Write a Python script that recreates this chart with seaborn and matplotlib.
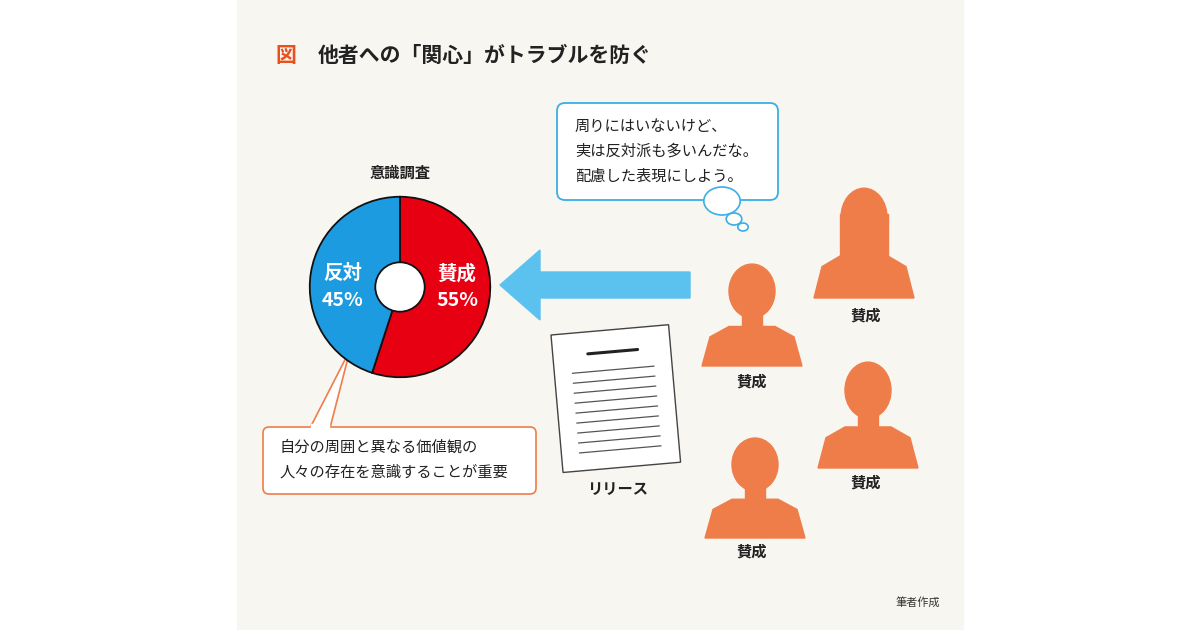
import matplotlib
matplotlib.use("Agg")
import matplotlib.pyplot as plt
import seaborn as sns
from matplotlib.patches import FancyBboxPatch, Circle, Ellipse, Polygon, Rectangle, FancyArrow
import matplotlib.transforms as mtrans

sns.set_theme(style="white", font="Noto Sans CJK JP")

# data
labels = ["賛成", "反対"]
values = [55, 45]
colors = ["#e60012", "#1d9be0"]
person_labels = ["賛成", "賛成", "賛成", "賛成"]

title = "他者への「関心」がトラブルを防ぐ"
bubble_text = "周りにはいないけど、\n実は反対派も多いんだな。\n配慮した表現にしよう。"
callout_text = "自分の周囲と異なる価値観の\n人々の存在を意識することが重要"

ORANGE = "#ee7d4a"
fig = plt.figure(figsize=(12, 6.3), dpi=100)
fig.patch.set_facecolor("white")
ax = fig.add_axes([0, 0, 1, 1])
ax.set_xlim(0, 1200)
ax.set_ylim(630, 0)
ax.axis("off")

ax.add_patch(Rectangle((237, 0), 726, 630, color="#f8f6f1", zorder=0))

ax.text(275, 55, "図", color="#e8501e", fontsize=15, fontweight="bold", va="center")
ax.text(318, 55, title, color="#222", fontsize=15, fontweight="bold", va="center")

# pie
ax.text(400, 173, "意識調査", fontsize=11, fontweight="bold", ha="center", va="center", color="#222")
pax = fig.add_axes([(400 - 95) / 1200, (630 - 287 - 95) / 630, 190 / 1200, 190 / 630])
pax.pie(values, colors=colors, startangle=90, counterclock=False, radius=0.95,
        wedgeprops=dict(edgecolor="#111", linewidth=1.3))
pax.add_patch(Circle((0, 0), 0.26, facecolor="white", edgecolor="#111", linewidth=1.3))
pax.set_xlim(-1, 1)
pax.set_ylim(-1, 1)
pax.text(0.6, 0.14, labels[0], color="white", fontsize=14, fontweight="bold", ha="center", va="center")
pax.text(0.6, -0.14, f"{values[0]}%", color="white", fontsize=14, fontweight="bold", ha="center", va="center")
pax.text(-0.6, 0.14, labels[1], color="white", fontsize=14, fontweight="bold", ha="center", va="center")
pax.text(-0.6, -0.14, f"{values[1]}%", color="white", fontsize=14, fontweight="bold", ha="center", va="center")

# arrow
ax.add_patch(Polygon([(690, 272), (540, 272), (540, 250), (500, 285), (540, 320), (540, 298), (690, 298)],
                     closed=True, color="#5bc2ef", zorder=2))

# callout
ax.add_patch(Polygon([(310, 428), (350, 350), (330, 428)], closed=True, facecolor="white",
                     edgecolor="#ee7d4a", linewidth=1.2, zorder=3))
ax.add_patch(FancyBboxPatch((263, 427), 273, 67, boxstyle="round,pad=0,rounding_size=6",
                            facecolor="white", edgecolor="#ee7d4a", linewidth=1.2, zorder=3))
ax.add_patch(Rectangle((311, 424), 18, 6, color="white", zorder=4))
ax.text(280, 460, callout_text, fontsize=11, va="center", color="#222", linespacing=1.6, zorder=5)

# speech bubble
ax.add_patch(FancyBboxPatch((557, 103), 221, 97, boxstyle="round,pad=0,rounding_size=8",
                            facecolor="white", edgecolor="#3aaee6", linewidth=1.3))
ax.text(575, 151, bubble_text, fontsize=11, va="center", color="#222", linespacing=1.6)
for (cx, cy, r) in [(722, 201, 14), (734, 219, 6), (743, 227, 4)]:
    ax.add_patch(Ellipse((cx, cy), 2 * r * 1.3, 2 * r, facecolor="white", edgecolor="#3aaee6", linewidth=1.2))

# document
doc = Rectangle((0, 0), 118, 138, facecolor="white", edgecolor="#444", linewidth=1)
tr = mtrans.Affine2D().rotate_deg(-5).translate(551, 335) + ax.transData
doc.set_transform(tr)
ax.add_patch(doc)
ax.plot([35, 85], [22, 22], color="#222", lw=2.2, transform=tr)
for i in range(9):
    ax.plot([18, 100], [40 + i * 10, 40 + i * 10], color="#555", lw=0.9, transform=tr)
ax.text(618, 489, "リリース", fontsize=11, fontweight="bold", ha="center", va="center", color="#222")

# people
def person(cx, top, w, h, long_hair=False):
    hw = w * 0.23
    ax.add_patch(Ellipse((cx, top + h * 0.28), hw * 2, h * 0.52, color=ORANGE, zorder=3))
    if long_hair:
        ax.add_patch(Rectangle((cx - hw * 1.05, top + h * 0.25), hw * 2.1, h * 0.4, color=ORANGE, zorder=3))
    ax.add_patch(Rectangle((cx - hw * 0.45, top + h * 0.45), hw * 0.9, h * 0.2, color=ORANGE, zorder=3))
    ax.add_patch(Polygon([(cx - w / 2, top + h), (cx - w / 2 + 8, top + h * 0.72), (cx - hw, top + h * 0.62),
                          (cx + hw, top + h * 0.62), (cx + w / 2 - 8, top + h * 0.72), (cx + w / 2, top + h)],
                         closed=True, color=ORANGE, zorder=3))

people = [(864, 186, 100, 112, True), (752, 262, 100, 104, False),
          (868, 360, 100, 108, False), (755, 436, 100, 102, False)]
label_pos = [(866, 316), (752, 382), (866, 483), (752, 552)]
for (cx, top, w, h, lh), (lx, ly), lab in zip(people, label_pos, person_labels):
    person(cx, top, w, h, lh)
    ax.text(lx, ly, lab, fontsize=11, fontweight="bold", ha="center", va="center", color="#222")

ax.text(918, 602, "筆者作成", fontsize=8, ha="center", va="center", color="#333")

fig.savefig("out.png", dpi=100, facecolor=fig.get_facecolor())
